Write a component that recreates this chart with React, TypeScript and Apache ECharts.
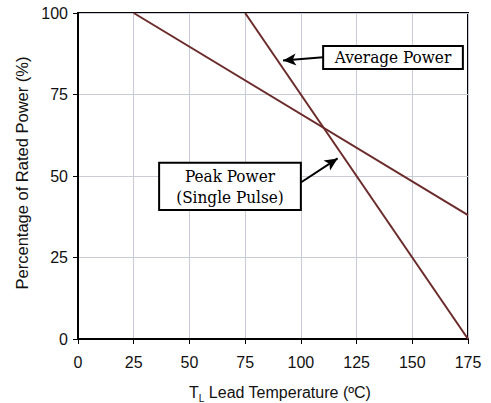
import React, { useEffect, useRef } from "react";
import * as echarts from "echarts";

const xTicks = [0, 25, 50, 75, 100, 125, 150, 175];
const yTicks = [0, 25, 50, 75, 100];
const peakPower: [number, number][] = [[25, 100], [175, 38]];
const averagePower: [number, number][] = [[75, 100], [175, 0]];
const averageBox: [number, number][] = [[110, 89.9], [172.7, 82.8]];
const peakBox: [number, number][] = [[36.4, 54.1], [100, 39.6]];
const averageArrow: [number, number][] = [[110, 86.4], [92, 85.4]];
const peakArrow: [number, number][] = [[100, 48], [116.5, 55.4]];

export default function App() {
  const ref = useRef<HTMLDivElement>(null);
  useEffect(() => {
    const chart = echarts.init(ref.current!, null, { renderer: "svg" });
    const lineColor = "#6b2b2b";
    const boxFont = { fontFamily: "DejaVu Serif Condensed", fontSize: 17, color: "#000" };
    const sans = "Liberation Sans";
    chart.setOption({
      animation: false,
      backgroundColor: "#fff",
      grid: {
        left: 78, right: 23, top: 13, bottom: 64,
        outerBoundsMode: "none",
        containLabel: false,
        show: true, borderColor: "#000", borderWidth: 2, backgroundColor: "transparent",
      },
      xAxis: {
        type: "value",
        min: xTicks[0],
        max: xTicks[xTicks.length - 1],
        interval: 25,
        axisLine: { show: true, lineStyle: { color: "#000", width: 2 } },
        axisTick: { show: true, length: 5, lineStyle: { color: "#000", width: 1 } },
        axisLabel: { margin: 15, fontFamily: sans, fontSize: 16, color: "#111" },
        splitLine: { show: true, lineStyle: { color: "#c9ccd6", width: 1 } },
        name: "{a|T}{s|L}{a| Lead Temperature (ºC)}",
        nameLocation: "middle",
        nameGap: 42,
        nameTextStyle: {
          padding: [0, 0, 0, 14],
          rich: {
            a: { fontFamily: sans, fontSize: 16, color: "#111" },
            s: { fontFamily: sans, fontSize: 10, color: "#111", verticalAlign: "bottom", padding: [12, 0, 0, 0] },
          },
        },
      },
      yAxis: {
        type: "value",
        min: yTicks[0],
        max: yTicks[yTicks.length - 1],
        interval: 25,
        axisLine: { show: true, lineStyle: { color: "#000", width: 2 } },
        axisTick: { show: true, length: 5, lineStyle: { color: "#000", width: 1 } },
        axisLabel: { margin: 10, fontFamily: sans, fontSize: 16, color: "#111" },
        splitLine: { show: true, lineStyle: { color: "#c9ccd6", width: 1 } },
        name: "Percentage of Rated Power (%)",
        nameLocation: "middle",
        nameGap: 48,
        nameTextStyle: { fontFamily: sans, fontSize: 16.5, color: "#111", padding: [0, 0, 0, 6] },
      },
      series: [
        {
          type: "line",
          data: peakPower,
          showSymbol: false,
          lineStyle: { color: lineColor, width: 2 },
          itemStyle: { color: lineColor },
          z: 3,
        },
        {
          type: "line",
          data: averagePower,
          showSymbol: false,
          lineStyle: { color: lineColor, width: 2 },
          itemStyle: { color: lineColor },
          z: 3,
          markArea: {
            silent: true,
            itemStyle: { color: "#fff", borderColor: "#000", borderWidth: 2 },
            label: { show: true, position: "inside", ...boxFont, lineHeight: 21 },
            data: [
              [{ coord: averageBox[0], name: "Average Power" }, { coord: averageBox[1] }],
              [{ coord: peakBox[0], name: "Peak Power\n(Single Pulse)" }, { coord: peakBox[1] }],
            ],
          },
          markLine: {
            silent: true,
            symbol: ["none", "arrow"],
            symbolSize: [9, 13],
            label: { show: false },
            lineStyle: { color: "#000", width: 2, type: "solid" },
            data: [
              [{ coord: averageArrow[0] }, { coord: averageArrow[1] }],
              [{ coord: peakArrow[0] }, { coord: peakArrow[1] }],
            ],
          },
        },
      ],
    });
    return () => chart.dispose();
  }, []);
  return <div ref={ref} style={{ width: 491, height: 403, position: "absolute", left: 0, top: 0 }} />;
}
